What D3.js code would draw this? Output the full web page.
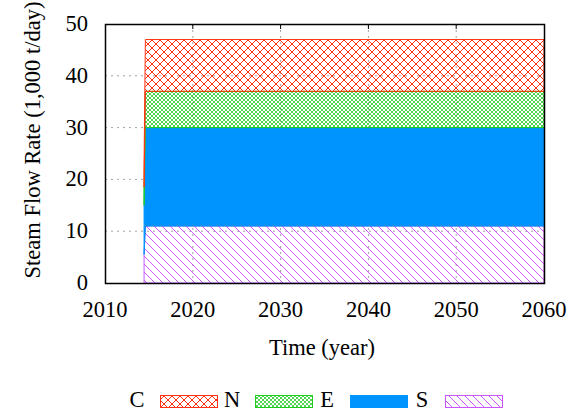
<!DOCTYPE html>
<html>
<head>
<meta charset="utf-8">
<script src="https://cdn.jsdelivr.net/npm/d3@7"></script>
<style>
  body { margin: 0; background: #fff; }
  svg text { font-family: "Liberation Serif", "DejaVu Serif", serif; fill: #000; }
</style>
</head>
<body>
<div id="chart"></div>
<script>
const width = 577;
const height = 413;

// time points (year) and stacked series values (1,000 t/day)
const years = [2014.45, 2014.6, 2060];
const seriesS = [5.5, 11, 11];
const seriesE = [9.5, 19, 19];
const seriesN = [3.5, 7, 7];
const seriesC = [5, 10, 10];

const xTicks = [2010, 2020, 2030, 2040, 2050, 2060];
const yTicks = [0, 10, 20, 30, 40, 50];

const legendNames = ["C", "N", "E", "S"];

const colors = { C: "#ff3311", N: "#22cc22", E: "#0094ff", S: "#cc55ff" };
const fontSize = "22.5px";

const svg = d3.select("#chart").append("svg")
    .attr("width", width)
    .attr("height", height);

const xScale = d3.scaleLinear().domain([2010, 2060]).range([105, 544]);
const yScale = d3.scaleLinear().domain([0, 50]).range([283, 24]);

// patterns
const defs = svg.append("defs");

function crossHatch(id, size, color, sw) {
    const p = defs.append("pattern")
        .attr("id", id)
        .attr("patternUnits", "userSpaceOnUse")
        .attr("width", size)
        .attr("height", size);
    p.append("path")
        .attr("d", `M0,0L${size},${size}M${size},0L0,${size}`)
        .attr("stroke", color)
        .attr("stroke-width", sw)
        .attr("fill", "none");
}
crossHatch("pat-c", 8, colors.C, 1);
crossHatch("pat-n", 4, colors.N, 0.8);

const pS = defs.append("pattern")
    .attr("id", "pat-s")
    .attr("patternUnits", "userSpaceOnUse")
    .attr("width", 8)
    .attr("height", 8);
pS.append("path")
    .attr("d", "M-2,-2L10,10M-2,6L2,10M6,-2L10,2")
    .attr("stroke", colors.S)
    .attr("stroke-width", 1)
    .attr("fill", "none");

const fills = { C: "url(#pat-c)", N: "url(#pat-n)", E: colors.E, S: "url(#pat-s)" };

// grid
const grid = svg.append("g");
grid.selectAll(".gy")
    .data(yTicks.slice(1, -1))
    .join("line")
    .attr("x1", 105).attr("x2", 544)
    .attr("y1", d => yScale(d)).attr("y2", d => yScale(d))
    .attr("stroke", "#a0a0a0")
    .attr("stroke-dasharray", "2,4");
grid.selectAll(".gx")
    .data(xTicks.slice(1, -1))
    .join("line")
    .attr("x1", d => xScale(d)).attr("x2", d => xScale(d))
    .attr("y1", 24).attr("y2", 283)
    .attr("stroke", "#a0a0a0")
    .attr("stroke-dasharray", "2,4");

// inward ticks on top
grid.selectAll(".tx")
    .data(xTicks.slice(1, -1))
    .join("line")
    .attr("x1", d => xScale(d)).attr("x2", d => xScale(d))
    .attr("y1", 24).attr("y2", 29)
    .attr("stroke", "#000");

// stacked areas
const rows = years.map((y, i) => ({ year: y, S: seriesS[i], E: seriesE[i], N: seriesN[i], C: seriesC[i] }));
const stack = d3.stack().keys(["S", "E", "N", "C"]);
const layers = stack(rows);

const area = d3.area()
    .x(d => xScale(d.data.year))
    .y0(d => yScale(d[0]))
    .y1(d => yScale(d[1]));

svg.append("g").selectAll("path")
    .data(layers)
    .join("path")
    .attr("d", area)
    .attr("fill", d => fills[d.key])
    .attr("stroke", d => colors[d.key])
    .attr("stroke-width", 1);

// frame
svg.append("rect")
    .attr("x", 105.5).attr("y", 24.5)
    .attr("width", 439).attr("height", 259)
    .attr("fill", "none")
    .attr("stroke", "#000")
    .attr("stroke-width", 1.5);

// tick labels
svg.append("g").selectAll("text")
    .data(xTicks)
    .join("text")
    .attr("x", d => xScale(d))
    .attr("y", 317)
    .attr("text-anchor", "middle")
    .style("font-size", fontSize)
    .text(d => d);

svg.append("g").selectAll("text")
    .data(yTicks)
    .join("text")
    .attr("x", 88)
    .attr("y", d => yScale(d) + 7)
    .attr("text-anchor", "end")
    .style("font-size", fontSize)
    .text(d => d);

// axis titles
svg.append("text")
    .attr("x", 322)
    .attr("y", 355)
    .attr("text-anchor", "middle")
    .style("font-size", fontSize)
    .text("Time (year)");

svg.append("text")
    .attr("transform", "translate(40,140) rotate(-90)")
    .attr("text-anchor", "middle")
    .style("font-size", fontSize)
    .text("Steam Flow Rate (1,000 t/day)");

// legend
const legend = svg.append("g").selectAll("g")
    .data(legendNames)
    .join("g")
    .attr("transform", (d, i) => `translate(${i * 95},0)`);

legend.append("text")
    .attr("x", 137)
    .attr("y", 407)
    .attr("text-anchor", "middle")
    .style("font-size", fontSize)
    .text(d => d);

legend.append("rect")
    .attr("x", 160.5).attr("y", 395.5)
    .attr("width", 57).attr("height", 12)
    .attr("fill", d => fills[d])
    .attr("stroke", d => colors[d])
    .attr("stroke-width", 1);
</script>
</body>
</html>
